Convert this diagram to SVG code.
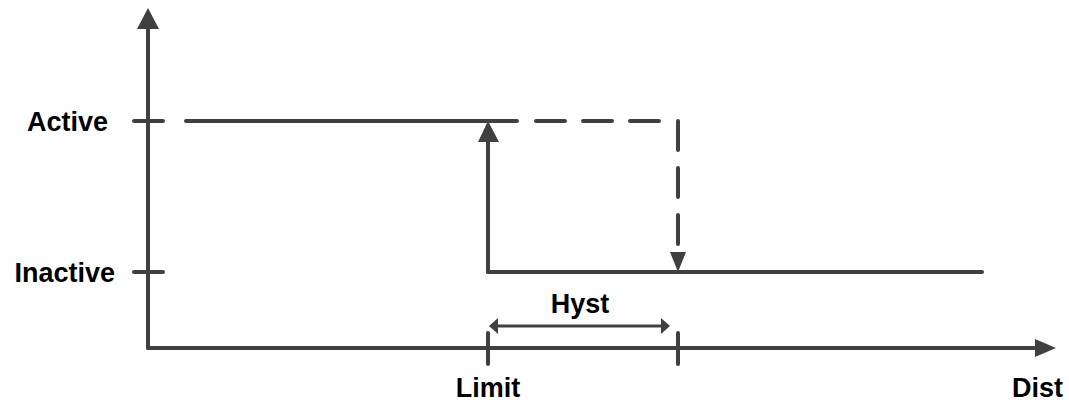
<svg xmlns="http://www.w3.org/2000/svg" width="1069" height="404" viewBox="0 0 1069 404">
<style>
.ln{stroke:#404040;stroke-width:4;fill:none;stroke-linecap:round}
.dash{stroke-dasharray:29,18}
.thin{stroke:#404040;stroke-width:3;fill:none}
.ah{fill:#404040}
.lbl{font-family:"Liberation Sans",Arial,sans-serif;font-weight:bold;font-size:27px;fill:#000}
</style>
<rect width="1069" height="404" fill="#fff"/>
<g id="axes">
<line class="ln" x1="148" y1="26" x2="148" y2="348" stroke-linecap="butt"/>
<polygon class="ah" points="148,8 137,29 159,29"/>
<line class="ln" x1="148" y1="348" x2="1037" y2="348"/>
<polygon class="ah" points="1056,348 1035,339 1035,357"/>
<line class="ln" x1="134" y1="121" x2="163" y2="121"/>
<line class="ln" x1="134" y1="272" x2="163" y2="272"/>
<line class="ln" x1="488" y1="333" x2="488" y2="364"/>
<line class="ln" x1="678" y1="333" x2="678" y2="364"/>
</g>
<g id="labels">
<text class="lbl" x="108" y="131" text-anchor="end">Active</text>
<text class="lbl" x="115" y="282" text-anchor="end">Inactive</text>
<text class="lbl" x="580" y="313" text-anchor="middle">Hyst</text>
<text class="lbl" x="488" y="397" text-anchor="middle">Limit</text>
<text class="lbl" x="1063" y="397" text-anchor="end">Dist</text>
</g>
<g id="connectors">
<line class="ln" x1="186" y1="121" x2="517" y2="121"/>
<line class="ln dash" x1="536" y1="121" x2="662" y2="121"/>
<line class="ln dash" x1="678" y1="121" x2="678" y2="246"/>
<polygon class="ah" points="678,272 670,252 686,252"/>
<line class="ln" x1="488" y1="140" x2="488" y2="272"/>
<polygon class="ah" points="488,121 478,142 499,142"/>
<line class="ln" x1="488" y1="272" x2="982" y2="272"/>
<line class="thin" x1="496" y1="326" x2="662" y2="326"/>
<polygon class="ah" points="489,326 498,318 498,334"/>
<polygon class="ah" points="670,326 661,318 661,334"/>
</g>
</svg>
